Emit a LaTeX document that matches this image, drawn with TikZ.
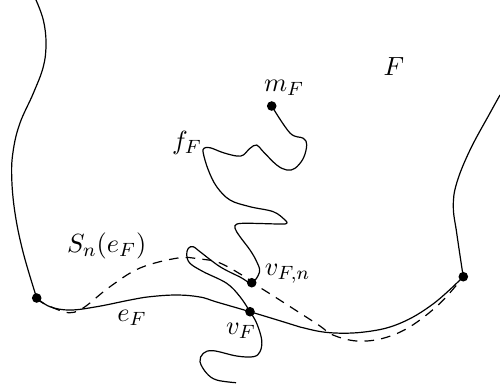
\documentclass[tikz,border=0pt]{standalone}
\begin{document}
\begin{tikzpicture}[x=0.4167pt,y=-0.4167pt,
  curvedraw/.style={line width=0.5pt},
  dotmark/.style={circle, fill=black, inner sep=0pt, minimum size=4pt},
  lbl/.style={inner sep=0pt, font=\fontsize{11}{13}\selectfont}]
\useasboundingbox (0,0) rectangle (500,388);
% dots
\node[dotmark] (a) at (36.7,298) {};
\node[dotmark] (b) at (463.3,276.7) {};
\node[dotmark] (vF) at (250,311.7) {};
\node[dotmark] (vFn) at (251.7,282.7) {};
\node[dotmark] (mF) at (271.7,106) {};
% left boundary
\draw[curvedraw] plot[smooth, tension=0.65] coordinates {(36,0) (43.3,20) (46,43) (43.3,66.7) (33.3,93.3) (20,123) (13.3,150) (11.7,176.7) (15,213) (23.3,253) (36.7,298)};
% right boundary
\draw[curvedraw] plot[smooth, tension=0.65] coordinates {(463.3,276.7) (461.7,266.7) (456.7,233) (453.3,206.7) (456.7,183) (470,150) (490,113) (500,95)};
% e_F
\draw[curvedraw] plot[smooth, tension=0.65] coordinates {(36.7,298) (50,306.7) (70,310) (96.7,306.7) (130,300) (150,296.7) (176.7,295) (200,297) (216.7,302) (250,311.7) (283,321.7) (300,327) (330,332.7) (366.7,331.7) (400,323.3) (433,304) (463.3,276.7)};
% S_n(e_F)
\draw[curvedraw, dash pattern=on 4pt off 3pt] plot[smooth, tension=0.6] coordinates {(36.7,298) (43.3,303.3) (63,311.5) (74,312.3) (86,306) (110,286.7) (140,268) (178,258) (200,259) (220,263) (246.7,278) (251.7,282.7) (266.7,291.7) (300,313) (320,326) (333,335) (356.7,341) (383,338.3) (410,326.7) (440,303.3) (463.3,276.7)};
% f_F
\draw[curvedraw] plot[smooth, tension=0.6] coordinates {(271.7,106) (290,133) (303.3,138.3) (306.7,145) (303.3,158.3) (295,168.3) (286.7,170) (276.7,165) (263.3,151.7) (256.7,145) (250,148.3) (243.3,155) (236.7,156) (223.3,152.7) (210,147.7) (204,148.3) (203.3,153.3) (208.3,170) (216.7,186.7) (230,200) (250,206.7) (273.3,211.7) (285,220) (286.7,223.3) (280,224) (250,223.3) (237,224) (235,228.3) (240,236.7) (250,250) (256.7,261.7) (259.5,272) (251.7,282.7) (240,277) (220,266.7) (200,251.7) (193.3,246.7) (188.3,248.3) (186.7,255) (190,263.3) (203.3,271.7) (226.7,283.3) (240,296.7) (250,311.7) (256.7,323.3) (261.7,340) (260,351.7) (253.3,356.7) (236.7,356) (213.3,350.7) (203.3,353.3) (200,361.7) (206.7,373.3) (216.7,380) (236,382.7)};
% labels
\node[lbl] (lF) at (394,67) {$F$};
\node[lbl] (lmF) at (284,88) {$m_F$};
\node[lbl] (lfF) at (187,143) {$f_F$};
\node[lbl] (lSn) at (106.7,246) {$S_n(e_F)$};
\node[lbl] (lvFn) at (287.5,274) {$v_{F,n}$};
\node[lbl] (leF) at (132,318) {$e_F$};
\node[lbl] (lvF) at (241,331) {$v_F$};
\end{tikzpicture}
\end{document}
